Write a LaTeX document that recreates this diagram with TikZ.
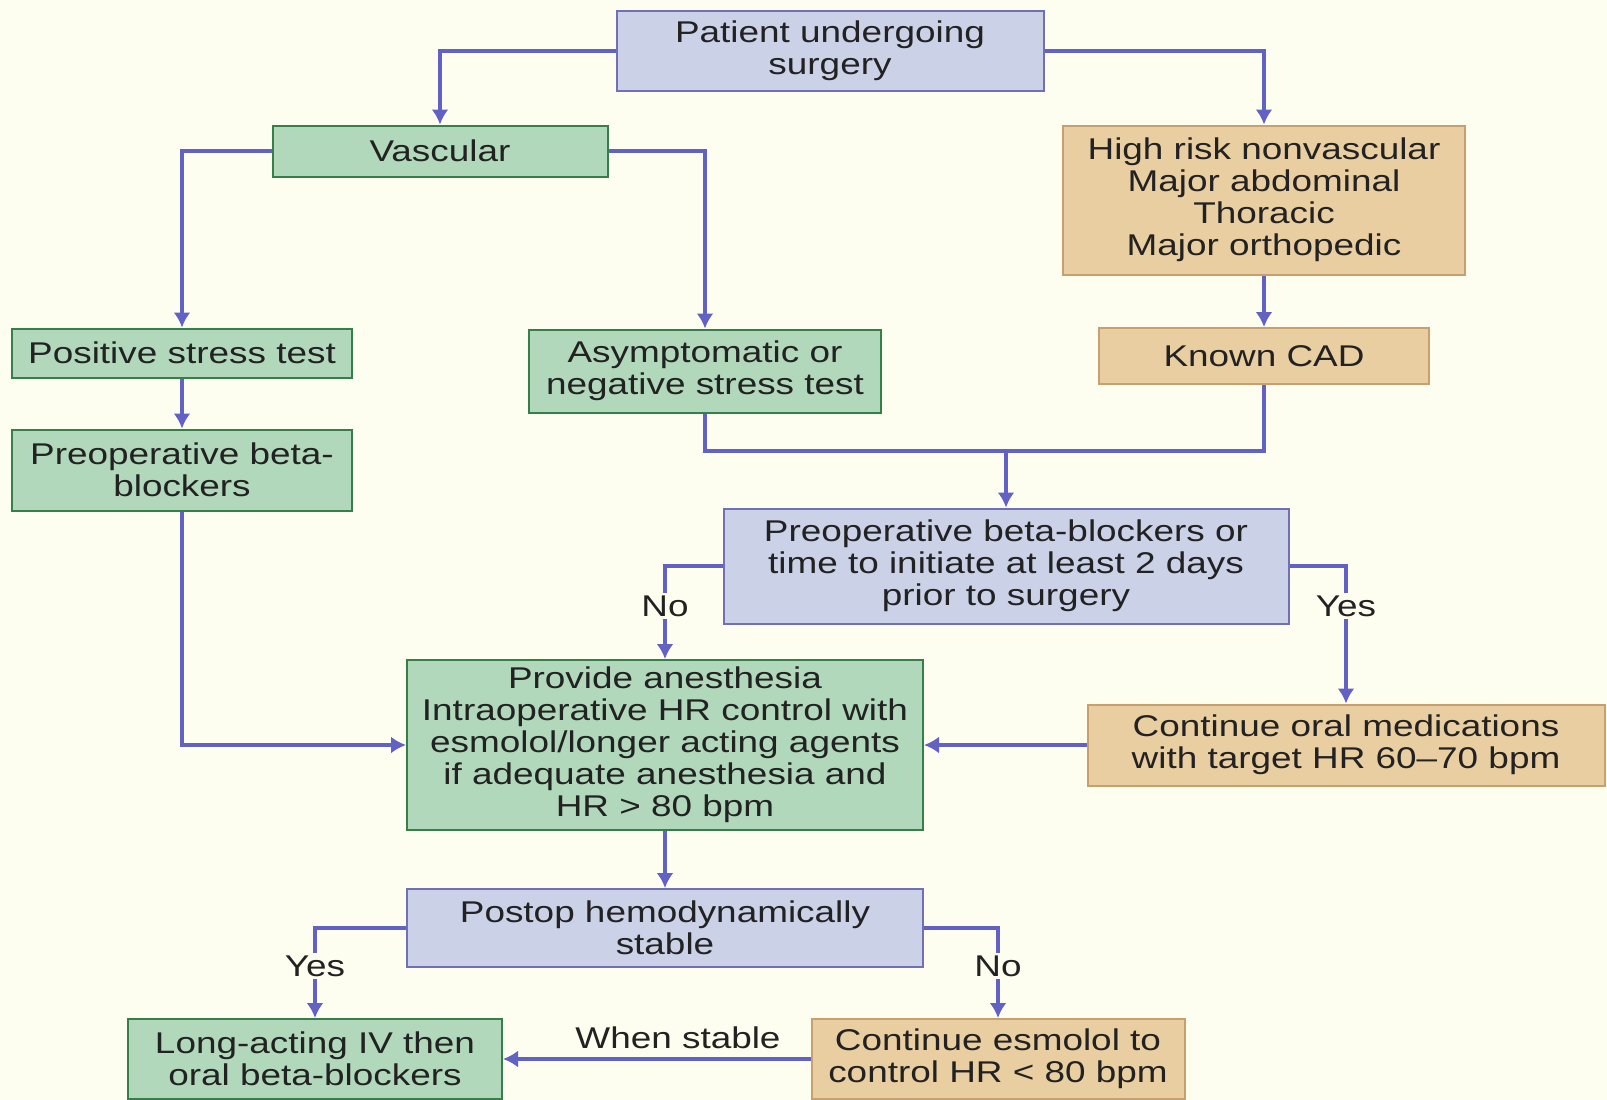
\documentclass[tikz,border=0pt]{standalone}
\usepackage{fontspec}
\setmainfont{Liberation Sans}[FakeStretch=1.23]
\usetikzlibrary{arrows.meta,positioning}

\definecolor{bgcol}{RGB}{253,253,240}
\definecolor{txtcol}{RGB}{34,34,34}
\definecolor{arrcol}{RGB}{98,98,196}
\definecolor{bluefill}{RGB}{203,210,232}
\definecolor{blueline}{RGB}{112,112,182}
\definecolor{greenfill}{RGB}{178,216,188}
\definecolor{greenline}{RGB}{52,128,72}
\definecolor{tanfill}{RGB}{233,206,162}
\definecolor{tanline}{RGB}{200,160,112}

\begin{document}
\begin{tikzpicture}[
    x=1pt,y=-1pt,
    >={Latex[length=15pt,width=17pt]},
    font=\fontsize{30}{32}\selectfont,
    box/.style={draw,line width=2pt,align=center,inner sep=2pt,text=txtcol},
    bluebox/.style={box,draw=blueline,fill=bluefill},
    greenbox/.style={box,draw=greenline,fill=greenfill},
    tanbox/.style={box,draw=tanline,fill=tanfill},
    arr/.style={->,draw=arrcol,line width=3.2pt},
    lnk/.style={draw=arrcol,line width=3.2pt},
    lab/.style={fill=bgcol,inner sep=3pt,text=txtcol}
  ]
    % background and page size
    \fill[bgcol] (0,0) rectangle (1607,1100);
    \useasboundingbox (0,0) rectangle (1607,1100);

    % Top: start and the two branches
    \node[bluebox,minimum width=427pt,minimum height=80pt] (pat) at (830,51) {Patient undergoing\\surgery};
    \node[greenbox,minimum width=335pt,minimum height=51pt] (vasc) at (440,151) {Vascular};
    \node[tanbox,minimum width=402pt,minimum height=149pt] (hr) at (1264,200) {High risk nonvascular\\Major abdominal\\Thoracic\\Major orthopedic};

    % Second row
    \node[greenbox,minimum width=340pt,minimum height=49pt] (pos) at (182,353) {Positive stress test};
    \node[greenbox,minimum width=352pt,minimum height=83pt] (asym) at (705,371) {Asymptomatic or\\negative stress test};
    \node[tanbox,minimum width=330pt,minimum height=56pt] (cad) at (1264,356) {Known CAD};
    \node[greenbox,minimum width=340pt,minimum height=81pt] (pbb) at (182,470) {Preoperative beta-\\blockers};

    % Decision on beta-blockers
    \node[bluebox,minimum width=565pt,minimum height=115pt] (time) at (1006,566) {Preoperative beta-blockers or\\time to initiate at least 2 days\\prior to surgery};
    \node[greenbox,minimum width=516pt,minimum height=170pt] (anes) at (665,745) {Provide anesthesia\\Intraoperative HR control with\\esmolol/longer acting agents\\if adequate anesthesia and\\HR > 80 bpm};
    \node[tanbox,minimum width=517pt,minimum height=81pt] (oral) at (1346,745) {Continue oral medications\\with target HR 60--70 bpm};

    % Bottom: postop
    \node[bluebox,minimum width=516pt,minimum height=78pt] (post) at (665,928) {Postop hemodynamically\\stable};
    \node[greenbox,minimum width=374pt,minimum height=80pt] (long) at (315,1059) {Long-acting IV then\\oral beta-blockers};
    \node[tanbox,minimum width=373pt,minimum height=80pt] (esm) at (998,1059) {Continue esmolol to\\control HR < 80 bpm};

    % Connectors
    \draw[arr] (pat.west) -| (vasc.north);
    \draw[arr] (pat.east) -| (hr.north);
    \draw[arr] (vasc.west) -| (pos.north);
    \draw[arr] (vasc.east) -| (asym.north);
    \draw[arr] (hr.south) -- (cad.north);
    \draw[arr] (pos.south) -- (pbb.north);
    \draw[arr] (pbb.south) |- (anes.west);

    \coordinate (join) at (1006,451);
    \draw[lnk] (asym.south) |- (join) -| (cad.south);
    \draw[arr] (join) -- (time.north);

    \draw[arr] (time.west) -| (anes.north);
    \draw[arr] (time.east) -| (oral.north);
    \node[lab] (no1) at (665,606) {No};
    \node[lab] (yes1) at (1346,606) {Yes};
    \draw[arr] (oral.west) -- (anes.east);

    \draw[arr] (anes.south) -- (post.north);
    \draw[arr] (post.west) -| (long.north);
    \draw[arr] (post.east) -| (esm.north);
    \node[lab] (yes2) at (315,966) {Yes};
    \node[lab] (no2) at (998,966) {No};
    \draw[arr] (esm.west) -- (long.east);
    \node[text=txtcol] (stable) at (678,1038) {When stable};
  \end{tikzpicture}
\end{document}
